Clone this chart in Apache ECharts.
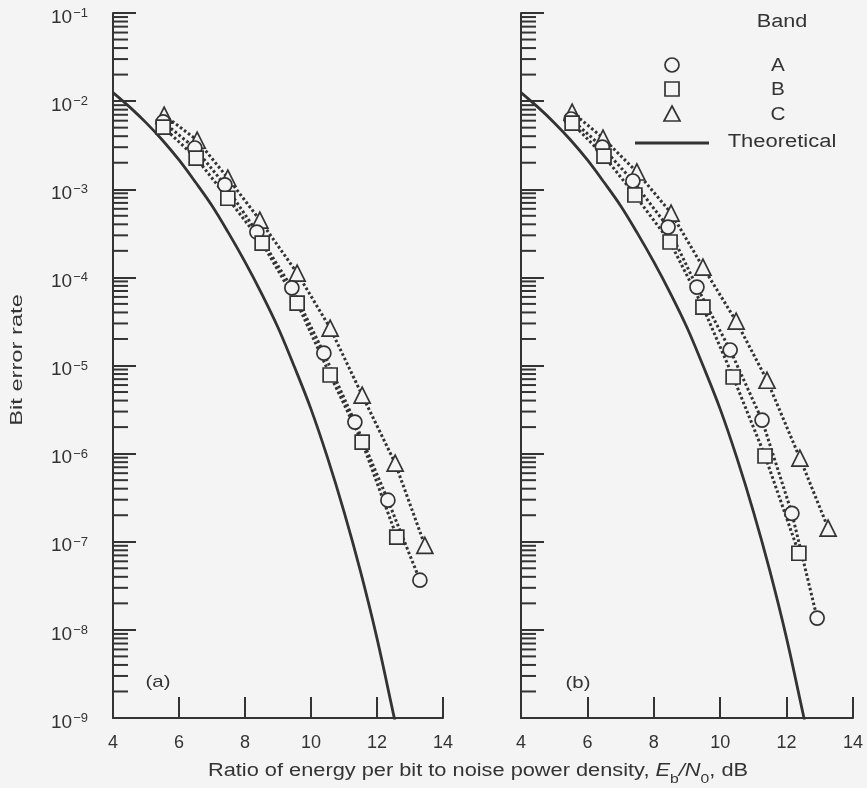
<!DOCTYPE html>
<html>
<head>
<meta charset="utf-8">
<script src="https://cdn.jsdelivr.net/npm/echarts@6/dist/echarts.min.js"></script>
<style>
html,body{margin:0;padding:0;background:#f4f4f4;}
#c{width:867px;height:788px;}
</style>
</head>
<body>
<div id="c"></div>
<script>
// ---------- data ----------
const xTicks = [4, 6, 8, 10, 12, 14];
const yTickExponents = [-9, -8, -7, -6, -5, -4, -3, -2, -1];

// Theoretical curve (same in both panels)
const theoX = [4, 4.5, 5, 5.5, 6, 6.5, 7, 7.5, 8, 8.5, 9, 9.5, 10, 10.5, 11, 11.5, 12, 12.5, 12.7];
const theoY = [1.25e-2, 8.6e-3, 5.7e-3, 3.6e-3, 2.15e-3, 1.2e-3, 6.5e-4, 3.2e-4, 1.5e-4, 6.6e-5, 2.7e-5, 9.6e-6, 3.2e-6, 9.0e-7, 2.2e-7, 4.6e-8, 8.0e-9, 1.1e-9, 5.0e-10];

// Panel (a)
const aBandAx = [5.52, 6.48, 7.39, 8.36, 9.42, 10.39, 11.33, 12.33, 13.30];
const aBandAy = [5.8e-3, 2.94e-3, 1.12e-3, 3.27e-4, 7.6e-5, 1.38e-5, 2.28e-6, 2.96e-7, 3.66e-8];
const aBandBx = [5.52, 6.52, 7.48, 8.52, 9.58, 10.58, 11.55, 12.6];
const aBandBy = [5.08e-3, 2.26e-3, 7.9e-4, 2.45e-4, 5.1e-5, 7.8e-6, 1.35e-6, 1.13e-7];
const aBandCx = [5.55, 6.55, 7.48, 8.45, 9.58, 10.58, 11.55, 12.55, 13.45];
const aBandCy = [6.95e-3, 3.6e-3, 1.34e-3, 4.47e-4, 1.12e-4, 2.66e-5, 4.6e-6, 7.8e-7, 9.1e-8];

// Panel (b)
const bBandAx = [5.51, 6.45, 7.37, 8.43, 9.30, 10.30, 11.26, 12.16, 12.92];
const bBandAy = [6.27e-3, 3.01e-3, 1.24e-3, 3.72e-4, 7.76e-5, 1.5e-5, 2.4e-6, 2.1e-7, 1.36e-8];
const bBandBx = [5.54, 6.50, 7.43, 8.49, 9.48, 10.39, 11.35, 12.37];
const bBandBy = [5.64e-3, 2.38e-3, 8.6e-4, 2.52e-4, 4.6e-5, 7.4e-6, 9.4e-7, 7.4e-8];
const bBandCx = [5.54, 6.47, 7.49, 8.52, 9.48, 10.48, 11.41, 12.40, 13.25];
const bBandCy = [7.5e-3, 3.81e-3, 1.57e-3, 5.37e-4, 1.31e-4, 3.19e-5, 6.8e-6, 8.9e-7, 1.43e-7];

const bandNames = ['A', 'B', 'C'];

// ---------- chart ----------
const INK = '#333333';
const BG = '#f4f4f4';
const FONT = '"Liberation Sans", Arial, Helvetica, sans-serif';
const lg = Math.log10;
const pts = (xs, ys) => xs.map((x, i) => [x, lg(ys[i])]);

const minorVals = [];
for (let e = yTickExponents[0]; e < yTickExponents[yTickExponents.length - 1]; e++) {
  for (let k = 2; k <= 9; k++) minorVals.push([4, lg(k * Math.pow(10, e))]);
}

function xAxisCfg(gi) {
  return {
    gridIndex: gi, type: 'value', min: xTicks[0], max: xTicks[xTicks.length - 1], interval: 2,
    axisLine: {show: true, lineStyle: {color: INK, width: 2}},
    axisTick: {show: true, inside: true, length: 21, lineStyle: {color: INK, width: 2}},
    axisLabel: {show: true, color: INK, fontSize: 18, fontFamily: FONT, margin: 16,
      formatter: v => xTicks.includes(v) ? String(v) : ''},
    splitLine: {show: false}
  };
}
function yAxisCfg(gi, labels) {
  return {
    gridIndex: gi, type: 'value', min: yTickExponents[0], max: yTickExponents[yTickExponents.length - 1], interval: 1,
    axisLine: {show: true, lineStyle: {color: INK, width: 2}},
    axisTick: {show: true, inside: true, length: 23, lineStyle: {color: INK, width: 2}},
    axisLabel: {show: labels, color: INK, fontFamily: FONT, margin: 25, padding: [8, 0, 0, 0],
      formatter: v => '{b|10}{s|\u2212' + (-v) + '}',
      rich: {
        b: {fontSize: 19, fontFamily: FONT, color: INK, lineHeight: 20, verticalAlign: 'bottom'},
        s: {fontSize: 13, fontFamily: FONT, color: INK, lineHeight: 15, verticalAlign: 'top', padding: [0, 0, 0, 1]}
      }},
    splitLine: {show: false}
  };
}

const symStyle = {color: BG, borderColor: INK, borderWidth: 1.7, opacity: 1};
const dotLine = {color: INK, width: 3, type: [2.6, 2.4]};

function bandLine(gi, name, data) {
  return {
    name: name, type: 'line', xAxisIndex: gi, yAxisIndex: gi, data: data,
    symbol: 'none', lineStyle: dotLine, z: 3, animation: false
  };
}
function bandMarks(gi, name, data, symbol, size) {
  return {
    name: name, type: 'scatter', xAxisIndex: gi, yAxisIndex: gi, data: data,
    symbol: symbol, symbolSize: size, itemStyle: symStyle, z: 4, animation: false
  };
}
function theoSeries(gi) {
  return {
    name: 'Theoretical', type: 'line', xAxisIndex: gi, yAxisIndex: gi,
    data: pts(theoX, theoY), symbol: 'none', smooth: 0.35, clip: true,
    lineStyle: {color: INK, width: 2.8}, z: 2, animation: false
  };
}
function minorTickSeries(gi) {
  return {
    type: 'custom', xAxisIndex: gi, yAxisIndex: gi, data: minorVals, silent: true, animation: false,
    renderItem: (params, api) => {
      const p = api.coord([api.value(0), api.value(1)]);
      return {type: 'line', shape: {x1: p[0], y1: p[1], x2: p[0] + 15, y2: p[1]},
        style: {stroke: INK, lineWidth: 2}};
    }
  };
}

function panel(gi, Ax, Ay, Bx, By, Cx, Cy) {
  const A = pts(Ax, Ay), B = pts(Bx, By), C = pts(Cx, Cy);
  return [
    minorTickSeries(gi), theoSeries(gi),
    bandLine(gi, 'C', C), bandLine(gi, 'A', A), bandLine(gi, 'B', B),
    bandMarks(gi, 'C', C, 'triangle', 16),
    bandMarks(gi, 'A', A, 'circle', 14),
    bandMarks(gi, 'B', B, 'rect', 14)
  ];
}

const series = [].concat(
  panel(0, aBandAx, aBandAy, aBandBx, aBandBy, aBandCx, aBandCy),
  panel(1, bBandAx, bBandAy, bBandBx, bBandBy, bBandCx, bBandCy)
);

const txt = (x, y, t, size, sx) => ({
  type: 'text', x: x, y: y, scaleX: sx || 1,
  style: {text: t, fill: INK, font: (size || 18) + 'px ' + FONT, textAlign: 'center', textVerticalAlign: 'middle'}
});

const legendShape = {stroke: INK, lineWidth: 1.7, fill: 'none'};
const graphic = [
  txt(782, 22, 'Band', 18, 1.2),
  {type: 'circle', shape: {cx: 672, cy: 65, r: 7}, style: legendShape},
  {type: 'rect', shape: {x: 665, y: 82, width: 14, height: 14}, style: legendShape},
  {type: 'polygon', shape: {points: [[672, 106], [680, 121], [664, 121]]}, style: legendShape},
  txt(778, 66, bandNames[0], 18, 1.15),
  txt(778, 90, bandNames[1], 18, 1.15),
  txt(778, 115, bandNames[2], 18, 1.15),
  {type: 'line', shape: {x1: 635, y1: 143, x2: 709, y2: 143}, style: {stroke: INK, lineWidth: 2.8}},
  txt(782, 142, 'Theoretical', 18, 1.22),
  txt(158, 682, '(a)', 17, 1.2),
  txt(578, 683, '(b)', 17, 1.2),
  {type: 'text', x: 18, y: 360, rotation: Math.PI / 2, scaleX: 1.48,
    style: {text: 'Bit error rate', fill: INK, font: '16px ' + FONT, textAlign: 'center', textVerticalAlign: 'middle'}},
  {type: 'text', x: 478, y: 774, scaleX: 1.21,
    style: {
      text: '{n|Ratio of energy per bit to noise power density, }{i|E}{sb|b}{i|/N}{sb|0}{n|, dB}',
      textAlign: 'center', textVerticalAlign: 'middle',
      rich: {
        n: {fontSize: 18, fontFamily: FONT, fill: INK, lineHeight: 24, verticalAlign: 'top'},
        i: {fontSize: 18, fontFamily: FONT, fontStyle: 'italic', fill: INK, lineHeight: 24, verticalAlign: 'top'},
        sb: {fontSize: 13, fontFamily: FONT, fill: INK, lineHeight: 14, verticalAlign: 'bottom'}
      }
    }}
];

const chart = echarts.init(document.getElementById('c'), null, {renderer: 'canvas'});
chart.setOption({
  backgroundColor: BG,
  animation: false,
  grid: [
    {left: 113, top: 13, width: 330, height: 705},
    {left: 521, top: 13, width: 332, height: 705}
  ],
  xAxis: [xAxisCfg(0), xAxisCfg(1)],
  yAxis: [yAxisCfg(0, true), yAxisCfg(1, false)],
  series: series,
  graphic: graphic
});
</script>
</body>
</html>
